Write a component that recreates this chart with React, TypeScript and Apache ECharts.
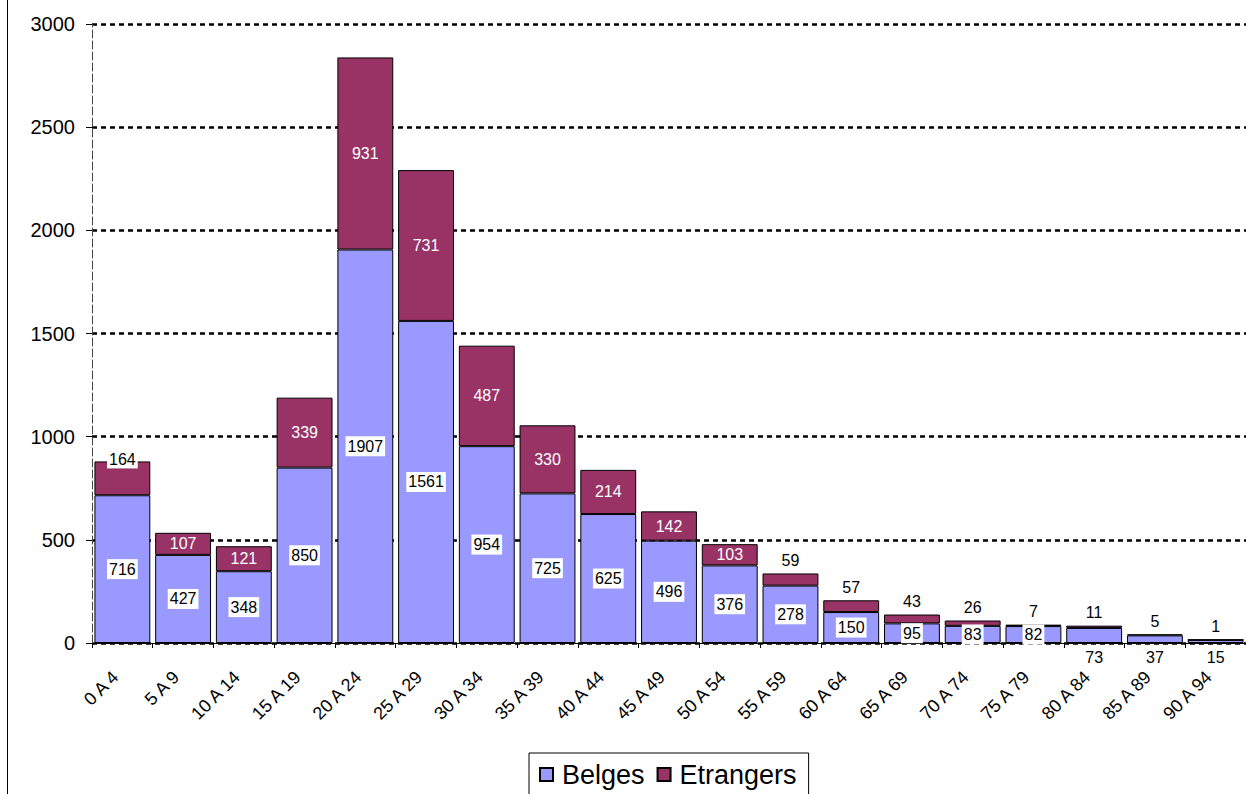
import React, { useEffect, useRef } from "react";
import * as echarts from "echarts";

const categories = [
  "0 A 4", "5 A 9", "10 A 14", "15 A 19", "20 A 24", "25 A 29", "30 A 34",
  "35 A 39", "40 A 44", "45 A 49", "50 A 54", "55 A 59", "60 A 64", "65 A 69",
  "70 A 74", "75 A 79", "80 A 84", "85 A 89", "90 A 94",
];
const belges = [716, 427, 348, 850, 1907, 1561, 954, 725, 625, 496, 376, 278, 150, 95, 83, 82, 73, 37, 15];
const etrangers = [164, 107, 121, 339, 931, 731, 487, 330, 214, 142, 103, 59, 57, 43, 26, 7, 11, 5, 1];
const yTicks = { min: 0, max: 3000, interval: 500 };

const FONT = "Liberation Sans, Arial, sans-serif";

export default function App() {
  const ref = useRef<HTMLDivElement>(null);
  useEffect(() => {
    if (!ref.current) return;
    const chart = echarts.init(ref.current, null, { renderer: "svg" });
    const belgesData = belges.map((v, i) =>
      i >= 16
        ? { value: v, label: { position: "bottom", distance: 6, backgroundColor: "transparent", padding: 0 } }
        : { value: v }
    );
    const etrData = etrangers.map((v, i) => {
      if (i === 0)
        return {
          value: v,
          label: { position: "insideTop", offset: [0, -16], color: "#000", backgroundColor: "#fff", padding: [1, 2] },
        };
      if (i >= 11) return { value: v, label: { position: "top", distance: 5, color: "#000" } };
      return { value: v };
    });
    chart.setOption({
      animation: false,
      textStyle: { fontFamily: FONT },
      grid: { left: 92, right: 0, top: 24, bottom: 151, containLabel: false },
      legend: {
        left: 529,
        top: 753,
        padding: [8, 12, 30, 10],
        itemGap: 12,
        itemWidth: 13,
        itemHeight: 13,
        icon: "rect",
        borderColor: "#000",
        borderWidth: 1,
        textStyle: { fontSize: 27, color: "#000", fontFamily: FONT, padding: [0, 0, 0, 4] },
        data: ["Belges", "Etrangers"],
      },
      xAxis: {
        type: "category",
        data: categories,
        axisLine: { lineStyle: { color: "#000", width: 1 } },
        axisTick: { show: true, length: 5, lineStyle: { color: "#000" } },
        axisLabel: {
          rotate: 45,
          margin: 24,
          fontSize: 18,
          color: "#000",
          interval: 0,
          fontFamily: FONT,
          padding: [0, 10, 0, 0],
        },
      },
      yAxis: {
        type: "value",
        min: yTicks.min,
        max: yTicks.max,
        interval: yTicks.interval,
        axisLine: { show: true, lineStyle: { color: "#444", width: 1, type: [8, 3] } },
        axisTick: { show: true, length: 6, lineStyle: { color: "#000" } },
        axisLabel: {
          margin: 17,
          fontSize: 20,
          color: "#000",
          fontFamily: FONT,
          formatter: (v: number) => String(v),
        },
        splitLine: { show: true, lineStyle: { color: "#000", width: 2.5, type: [5, 4] } },
      },
      series: [
        {
          name: "Belges",
          type: "bar",
          stack: "total",
          barCategoryGap: "8%",
          itemStyle: { color: "#9999FF", borderColor: "#000", borderWidth: 1 },
          label: {
            show: true,
            position: "inside",
            color: "#000",
            backgroundColor: "#fff",
            padding: [2, 2],
            fontSize: 16,
            fontFamily: FONT,
          },
          data: belgesData,
        },
        {
          name: "Etrangers",
          type: "bar",
          stack: "total",
          barCategoryGap: "8%",
          itemStyle: { color: "#993366", borderColor: "#000", borderWidth: 1 },
          label: { show: true, position: "inside", color: "#fff", fontSize: 16, fontFamily: FONT },
          data: etrData,
        },
      ],
      graphic: [
        {
          type: "line",
          shape: { x1: 7.5, y1: 0, x2: 7.5, y2: 794 },
          style: { stroke: "#000", lineWidth: 1 },
        },
      ],
    });
    return () => chart.dispose();
  }, []);
  return (
    <div
      ref={ref}
      style={{ position: "fixed", left: 0, top: 0, width: 1246, height: 794, background: "#fff" }}
    />
  );
}
